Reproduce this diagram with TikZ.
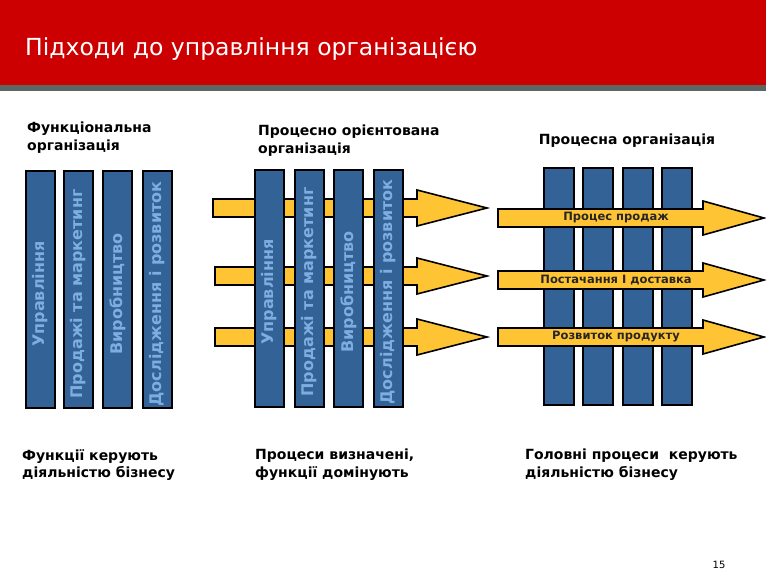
\documentclass[tikz,border=0pt]{standalone}
\usepackage{fontspec}
\setmainfont{DejaVu Sans}
\definecolor{titlered}{RGB}{204,0,0}
\definecolor{stripe}{RGB}{92,102,100}
\definecolor{barblue}{RGB}{51,99,150}
\definecolor{bartext}{RGB}{125,174,224}
\definecolor{flowyellow}{RGB}{255,196,51}
\tikzstyle{bar}=[fill=barblue, draw=black, line width=1.6pt]
\tikzstyle{bartxt}=[rotate=90, text=bartext, font=\fontsize{16}{16}\selectfont\bfseries, inner sep=0pt]
\tikzstyle{flow}=[fill=flowyellow, draw=black, line width=1.6pt, line join=miter]
\tikzstyle{flowtxt}=[font=\fontsize{11.5}{11.5}\selectfont\bfseries, text=black!85, inner sep=0pt]
\tikzstyle{head}=[font=\fontsize{14}{17.5}\selectfont\bfseries, align=left, anchor=north west, inner sep=0pt]

\begin{document}
\begin{tikzpicture}[x=1pt, y=-1pt]
  \useasboundingbox (0,0) rectangle (766,586);
  % title bar
  \fill[titlered] (0,0) rectangle (766,85);
  \fill[stripe] (0,85) rectangle (766,91);
  \node[anchor=base west, text=white, font=\fontsize{23.5}{23.5}\selectfont, inner sep=0pt] (title) at (25,56) {Підходи до управління організацією};

  % functional organisation
  \node[head] (hfunc) at (27,122) {Функціональна\\організація};
  \foreach \x/\t [count=\i] in {26/Управління, 64/Продажі та маркетинг, 103/Виробництво, 143/Дослідження і розвиток} {
    \draw[bar] (\x,171) rectangle ++(29,237);
    \node[bartxt] (fbar\i) at (\x+14.5,294) {\t};
  }
  \node[head] (tfunc) at (22,449) {Функції керують\\діяльністю бізнесу};

  % process oriented organisation
  \node[head] (hproc) at (258,125) {Процесно орієнтована\\організація};
  \foreach \y/\s in {208/213, 276/215, 337/215}
    \draw[flow] (\s,\y-9) -- (417,\y-9) -- (417,\y-18) -- (487,\y) -- (417,\y+18) -- (417,\y+9) -- (\s,\y+9) -- cycle;
  \foreach \x/\t [count=\i] in {255/Управління, 295/Продажі та маркетинг, 334/Виробництво, 374/Дослідження і розвиток} {
    \draw[bar] (\x,170) rectangle ++(29,237);
    \node[bartxt] (pbar\i) at (\x+14.5,292) {\t};
  }
  \node[head] (tproc) at (255,449) {Процеси визначені,\\функції домінують};

  % process organisation
  \node[font=\fontsize{14}{14}\selectfont\bfseries, inner sep=0pt] (hflow) at (627,141) {Процесна організація};
  \foreach \x in {544,583,623,662}
    \draw[bar] (\x,168) rectangle ++(30,237);
  \foreach \y/\t [count=\i] in {218/Процес продаж, 280/Постачання І доставка, 337/Розвиток продукту} {
    \draw[flow] (498,\y-9) -- (703,\y-9) -- (703,\y-17) -- (764,\y) -- (703,\y+17) -- (703,\y+9) -- (498,\y+9) -- cycle;
    \node[flowtxt] (flow\i) at (616,\y) {\t};
  }
  \node[head] (tflow) at (525,449) {Головні процеси\ \ керують\\діяльністю бізнесу};

  \node[font=\fontsize{10}{10}\selectfont, inner sep=0pt] (page) at (719,565) {15};
\end{tikzpicture}
\end{document}
